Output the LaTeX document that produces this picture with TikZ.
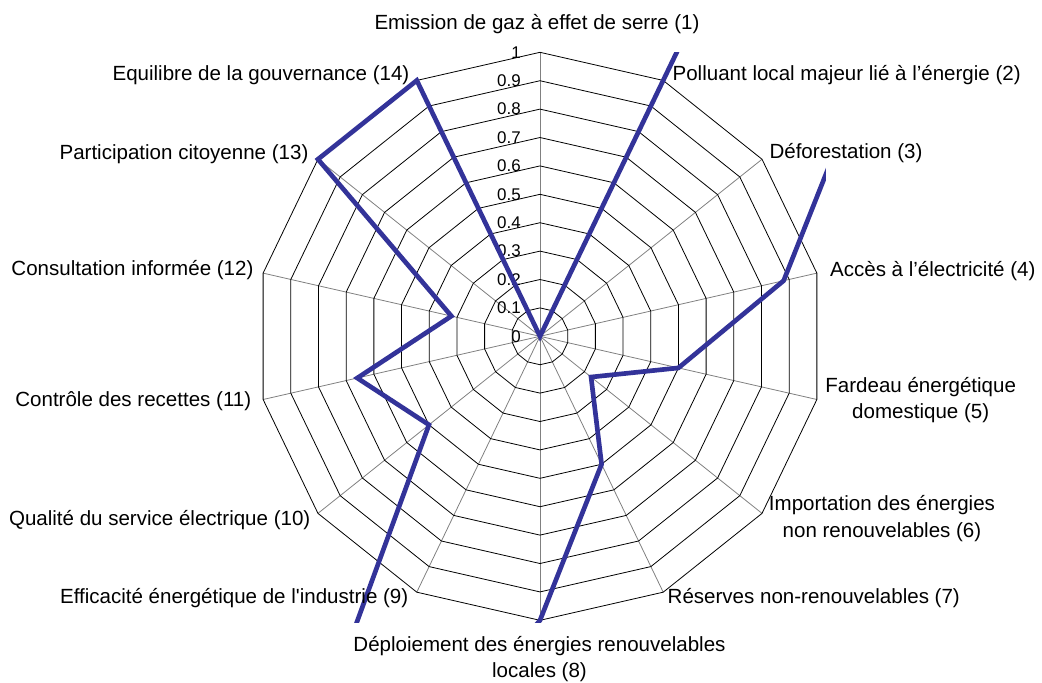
\documentclass[tikz,border=0pt]{standalone}
\usepackage{fontspec}
\setmainfont{Liberation Sans}[Ligatures=TeXOff]
\definecolor{serie}{RGB}{51,51,153}
\definecolor{gris}{RGB}{128,128,128}

\begin{document}
\begin{tikzpicture}[line cap=butt,line join=miter,x=213pt,y=213pt,
	lbl/.style={font=\fontsize{15.4}{20}\selectfont,align=center,inner sep=0pt},
	graduation/.style={font=\fontsize{12.7}{15}\selectfont,anchor=east,inner sep=0pt},
	anneau/.style={line width=0.6pt,color=black},
	rayon/.style={line width=0.6pt,color=gris},
	courbe/.style={line width=3.5pt,color=serie}]
			\useasboundingbox (-1.9014,-1.2173) rectangle (1.7676,1.1842);
			% rayons et anneaux
			\foreach \k in {0,...,13}
				\draw [rayon] (0,0) -- (90-\k*360/14:1);
			\foreach \r in {0.1,0.2,0.3,0.4,0.5,0.6,0.7,0.8,0.9,1.0}
				\draw [anneau] (90:\r) \foreach \k in {1,...,13} {-- (90-\k*360/14:\r)} -- cycle;
			% graduations
			\foreach \r/\t [count=\i] in {0/0,0.1/0.1,0.2/0.2,0.3/0.3,0.4/0.4,0.5/0.5,0.6/0.6,0.7/0.7,0.8/0.8,0.9/0.9,1/1}
				\node [graduation] (g\i) at (-0.067,\r) {\t};
			% serie
			\begin{scope}
				\clip (-1.007,-1.006) rectangle (1.007,1.);
				\draw [courbe] (90:0.) -- (64.29:1.5) -- (38.57:1.46) -- (12.86:0.88) -- (-12.86:0.5) -- (-38.57:0.23) -- (-64.29:0.5) -- (-90:1.) -- (-115.71:2.65) -- (-141.43:0.5) -- (-167.14:0.66) -- (167.14:0.32) -- (141.43:1.) -- (115.71:1.) -- cycle;
			\end{scope}
			% axes
			\node [lbl] (l1) at (-0.0106,1.0996) {Emission de gaz à effet de serre (1)};
			\node [lbl] (l2) at (1.0799,0.9201) {Polluant local majeur lié à l’énergie (2)};
			\node [lbl] (l3) at (1.0775,0.6444) {Déforestation (3)};
			\node [lbl] (l4) at (1.3831,0.2299) {Accès à l’électricité (4)};
			\node [lbl] (l5) at (1.3405,-0.2243) {Fardeau énergétique\\domestique (5)};
			\node [lbl] (l6) at (1.2042,-0.6408) {Importation des énergies\\non renouvelables (6)};
			\node [lbl] (l7) at (0.9641,-0.9204) {Réserves non-renouvelables (7)};
			\node [lbl] (l8) at (-0.0018,-1.1366) {Déploiement des énergies renouvelables\\locales (8)};
			\node [lbl] (l9) at (-1.0768,-0.9225) {Efficacité énergétique de l'industrie (9)};
			\node [lbl] (l10) at (-1.3391,-0.6468) {Qualité du service électrique (10)};
			\node [lbl] (l11) at (-1.4320,-0.2268) {Contrôle des recettes (11)};
			\node [lbl] (l12) at (-1.4349,0.2335) {Consultation informée (12)};
			\node [lbl] (l13) at (-1.2535,0.6408) {Participation citoyenne (13)};
			\node [lbl] (l14) at (-0.9824,0.9201) {Equilibre de la gouvernance (14)};
		\end{tikzpicture}
\end{document}
